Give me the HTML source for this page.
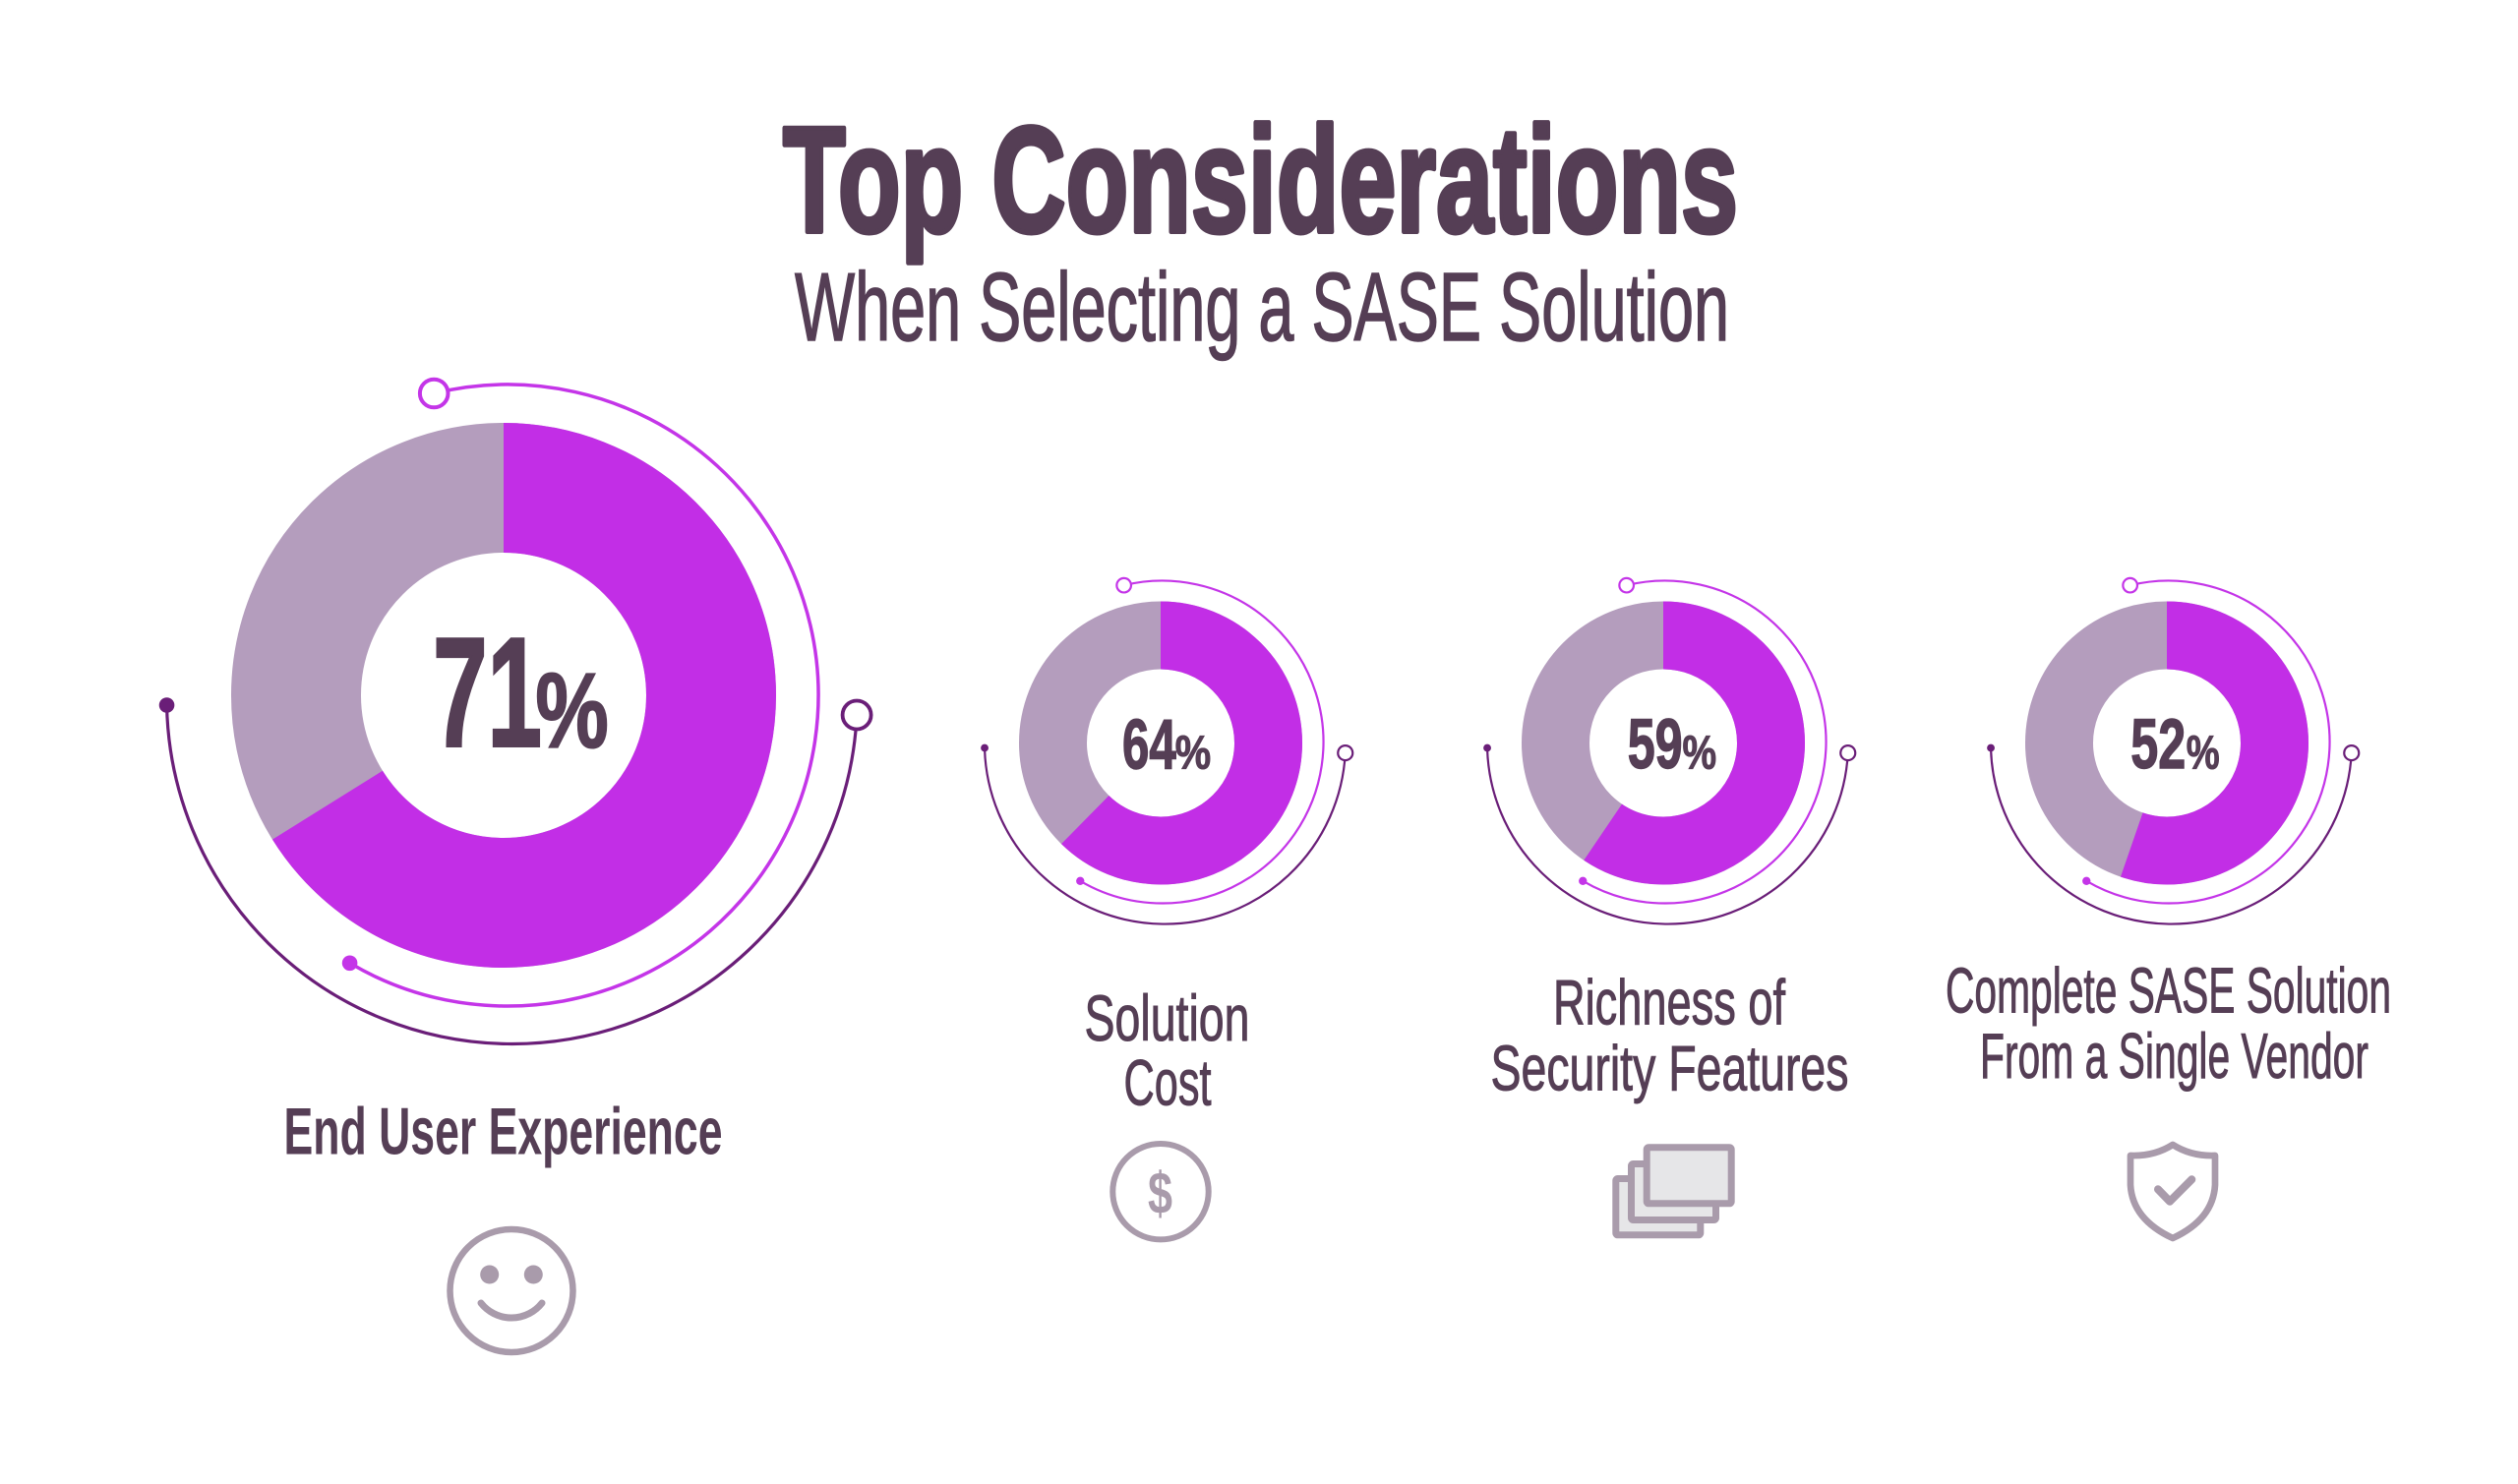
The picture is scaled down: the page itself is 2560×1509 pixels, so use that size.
<!DOCTYPE html>
<html>
<head>
<meta charset="utf-8">
<style>
  html, body { margin: 0; padding: 0; background: #ffffff; }
  body { width: 2560px; height: 1509px; overflow: hidden; }
  svg { display: block; }
  text { font-family: "Liberation Sans", "DejaVu Sans", sans-serif; fill: #553e55; }
</style>
</head>
<body>
<svg width="2560" height="1509" viewBox="0 0 2560 1509" xmlns="http://www.w3.org/2000/svg">
  <rect x="0" y="0" width="2560" height="1509" fill="#ffffff"/>

  <!-- Title -->
  <text x="796" y="235.5" font-size="153" font-weight="bold" textLength="971" lengthAdjust="spacingAndGlyphs" stroke="#553e55" stroke-width="5" stroke-linejoin="round">Top Considerations</text>
  <text x="808" y="346" font-size="98" textLength="950" lengthAdjust="spacingAndGlyphs" stroke="#553e55" stroke-width="1.5">When Selecting a SASE Solution</text>

  <!-- ===== Big donut 71% ===== -->
  <circle cx="512" cy="707" r="211" fill="none" stroke="#b49dbd" stroke-width="132"/>
  <circle cx="512" cy="707" r="211" fill="none" stroke="#c22ee6" stroke-width="132" stroke-dasharray="876.4 3000" transform="rotate(-90 512 707)"/>
  <!-- magenta outer arc -->
  <path d="M441.2,400 A316,316 0 1 1 355.6,979.3" fill="none" stroke="#c435e8" stroke-width="3.5"/>
  <circle cx="441.2" cy="400" r="14.3" fill="#ffffff" stroke="#c435e8" stroke-width="4"/>
  <circle cx="355.6" cy="979.3" r="7.8" fill="#c435e8"/>
  <!-- dark outer arc -->
  <path d="M169.55,717 A351,351 0 0 0 871.1,727" fill="none" stroke="#6a1e78" stroke-width="3.2"/>
  <circle cx="169.55" cy="717" r="7.8" fill="#6a1e78"/>
  <circle cx="871.1" cy="727" r="14.5" fill="#ffffff" stroke="#6a1e78" stroke-width="3.8"/>
  <!-- percent -->
  <text x="440.2" y="758.5" font-size="158" font-weight="bold" textLength="110.7" lengthAdjust="spacingAndGlyphs" stroke="#553e55" stroke-width="3">71</text>
  <text x="544.5" y="759.7" font-size="108" font-weight="bold" textLength="74.2" lengthAdjust="spacingAndGlyphs" stroke="#553e55" stroke-width="2">%</text>

  <!-- ===== Small donut 64% ===== -->
  <circle cx="1180" cy="755.5" r="109.5" fill="none" stroke="#b49dbd" stroke-width="69"/>
  <circle cx="1180" cy="755.5" r="109.5" fill="none" stroke="#c22ee6" stroke-width="69" stroke-dasharray="428.9 2000" transform="rotate(-90 1180 755.5)"/>
  <g>
    <path d="M1142.66,595.16 A164,164 0 1 1 1098.27,895.8" fill="none" stroke="#c435e8" stroke-width="2.2"/>
    <circle cx="1142.66" cy="595.16" r="7.3" fill="#ffffff" stroke="#c435e8" stroke-width="2.2"/>
    <circle cx="1098.27" cy="895.8" r="4.2" fill="#c435e8"/>
    <path d="M1001.05,760.48 A183.5,183.5 0 0 0 1367.75,765.6" fill="none" stroke="#6a1e78" stroke-width="2.2"/>
    <circle cx="1001.05" cy="760.48" r="3.9" fill="#6a1e78"/>
    <circle cx="1367.75" cy="765.6" r="7.5" fill="#ffffff" stroke="#6a1e78" stroke-width="2.2"/>
  </g>
  <text x="1141" y="781.3" font-size="71" font-weight="bold" textLength="54.8" lengthAdjust="spacingAndGlyphs" stroke="#553e55" stroke-width="1.4">64</text>
  <text x="1194.8" y="781.6" font-size="48" font-weight="bold" textLength="36.4" lengthAdjust="spacingAndGlyphs" stroke="#553e55" stroke-width="1">%</text>

  <!-- ===== Small donut 59% ===== -->
  <circle cx="1691" cy="755.5" r="109.5" fill="none" stroke="#b49dbd" stroke-width="69"/>
  <circle cx="1691" cy="755.5" r="109.5" fill="none" stroke="#c22ee6" stroke-width="69" stroke-dasharray="409.0 2000" transform="rotate(-90 1691 755.5)"/>
  <g transform="translate(511 0)">
    <path d="M1142.66,595.16 A164,164 0 1 1 1098.27,895.8" fill="none" stroke="#c435e8" stroke-width="2.2"/>
    <circle cx="1142.66" cy="595.16" r="7.3" fill="#ffffff" stroke="#c435e8" stroke-width="2.2"/>
    <circle cx="1098.27" cy="895.8" r="4.2" fill="#c435e8"/>
    <path d="M1001.05,760.48 A183.5,183.5 0 0 0 1367.75,765.6" fill="none" stroke="#6a1e78" stroke-width="2.2"/>
    <circle cx="1001.05" cy="760.48" r="3.9" fill="#6a1e78"/>
    <circle cx="1367.75" cy="765.6" r="7.5" fill="#ffffff" stroke="#6a1e78" stroke-width="2.2"/>
  </g>
  <text x="1654.7" y="781" font-size="71" font-weight="bold" textLength="56" lengthAdjust="spacingAndGlyphs" stroke="#553e55" stroke-width="1.4">59</text>
  <text x="1710.5" y="781.3" font-size="48" font-weight="bold" textLength="34.6" lengthAdjust="spacingAndGlyphs" stroke="#553e55" stroke-width="1">%</text>

  <!-- ===== Small donut 52% ===== -->
  <circle cx="2203" cy="755.5" r="109.5" fill="none" stroke="#b49dbd" stroke-width="69"/>
  <circle cx="2203" cy="755.5" r="109.5" fill="none" stroke="#c22ee6" stroke-width="69" stroke-dasharray="380.3 2000" transform="rotate(-90 2203 755.5)"/>
  <g transform="translate(1023 0)">
    <path d="M1142.66,595.16 A164,164 0 1 1 1098.27,895.8" fill="none" stroke="#c435e8" stroke-width="2.2"/>
    <circle cx="1142.66" cy="595.16" r="7.3" fill="#ffffff" stroke="#c435e8" stroke-width="2.2"/>
    <circle cx="1098.27" cy="895.8" r="4.2" fill="#c435e8"/>
    <path d="M1001.05,760.48 A183.5,183.5 0 0 0 1367.75,765.6" fill="none" stroke="#6a1e78" stroke-width="2.2"/>
    <circle cx="1001.05" cy="760.48" r="3.9" fill="#6a1e78"/>
    <circle cx="1367.75" cy="765.6" r="7.5" fill="#ffffff" stroke="#6a1e78" stroke-width="2.2"/>
  </g>
  <text x="2166.3" y="781" font-size="71" font-weight="bold" textLength="56" lengthAdjust="spacingAndGlyphs" stroke="#553e55" stroke-width="1.4">52</text>
  <text x="2222.8" y="781.3" font-size="48" font-weight="bold" textLength="33.9" lengthAdjust="spacingAndGlyphs" stroke="#553e55" stroke-width="1">%</text>

  <!-- ===== Labels ===== -->
  <text x="288.5" y="1173.3" font-size="68" font-weight="bold" textLength="446" lengthAdjust="spacingAndGlyphs">End User Experience</text>

  <text x="1102.5" y="1057.8" font-size="66" textLength="168" lengthAdjust="spacingAndGlyphs" stroke="#553e55" stroke-width="1">Solution</text>
  <text x="1142.5" y="1123.5" font-size="66" textLength="89" lengthAdjust="spacingAndGlyphs" stroke="#553e55" stroke-width="1">Cost</text>

  <text x="1579" y="1041.7" font-size="65" textLength="236" lengthAdjust="spacingAndGlyphs" stroke="#553e55" stroke-width="1">Richness of</text>
  <text x="1515.5" y="1108.3" font-size="65" textLength="364" lengthAdjust="spacingAndGlyphs" stroke="#553e55" stroke-width="1">Security Features</text>

  <text x="1978" y="1029.5" font-size="64.5" textLength="453" lengthAdjust="spacingAndGlyphs" stroke="#553e55" stroke-width="1">Complete SASE Solution</text>
  <text x="2013" y="1095.8" font-size="64.5" textLength="395" lengthAdjust="spacingAndGlyphs" stroke="#553e55" stroke-width="1">From a Single Vendor</text>

  <!-- ===== Icons ===== -->
  <!-- smiley -->
  <circle cx="520" cy="1312.5" r="62.5" fill="none" stroke="#a99bab" stroke-width="6.5"/>
  <circle cx="497.7" cy="1296" r="9.5" fill="#a99bab"/>
  <circle cx="542.3" cy="1296" r="9.5" fill="#a99bab"/>
  <path d="M489,1325 A39.5,39.5 0 0 0 551,1325" fill="none" stroke="#a99bab" stroke-width="7" stroke-linecap="round"/>

  <!-- dollar -->
  <circle cx="1180" cy="1211.7" r="48.7" fill="none" stroke="#a99bab" stroke-width="6"/>
  <text x="1167" y="1234" font-size="60" font-weight="bold" textLength="25" lengthAdjust="spacingAndGlyphs" style="fill:#a99bab">$</text>

  <!-- stacked screens -->
  <rect x="1642.8" y="1198.5" width="86" height="57.3" rx="2" fill="#e6e6e8" stroke="#a99bab" stroke-width="7"/>
  <rect x="1658.5" y="1183.5" width="86" height="57" rx="2" fill="#e6e6e8" stroke="#a99bab" stroke-width="7"/>
  <rect x="1674.2" y="1166.8" width="86" height="57" rx="2" fill="#e6e6e8" stroke="#a99bab" stroke-width="7"/>

  <!-- shield -->
  <path d="M2209,1164 Q2190,1176 2166,1175 L2166,1205 Q2168,1240 2209,1259 Q2250,1240 2252,1205 L2252,1175 Q2228,1176 2209,1164 Z" fill="none" stroke="#a99bab" stroke-width="6.7" stroke-linejoin="round"/>
  <path d="M2194,1209.3 L2206,1221.7 L2228.3,1199.3" fill="none" stroke="#a99bab" stroke-width="8" stroke-linecap="round" stroke-linejoin="round"/>
</svg>
</body>
</html>
